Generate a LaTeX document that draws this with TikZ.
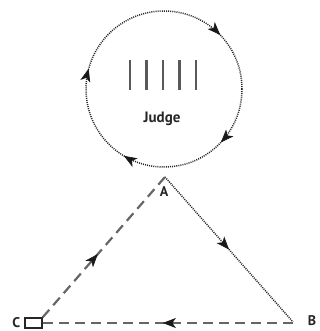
\documentclass[tikz,border=0pt]{standalone}
\usepackage{fontspec}
\setmainfont{PT Sans}
\usetikzlibrary{arrows.meta, positioning, decorations.markings}
\tikzset{
	x=1pt, y=-1pt, % one unit is one pixel of the picture
	>={Stealth[length=13pt, width=10pt, inset=3.5pt]}, % arrow heads on the lines
	lbl/.style={font=\bfseries\fontsize{14}{14}\selectfont, text=black!85, inner sep=0pt}, % letters
	dots/.style={draw=black!85, line width=1.5pt, dash pattern=on 1pt off 1.1pt}, % dotted lines
	dashes/.style={draw=black!60, line width=2.2pt, dash pattern=on 10pt off 6pt}, % dashed lines
	tip/.style={black!90, solid, line width=0.6pt}, % arrow heads along a line
	midarrow/.style={postaction={decorate}, decoration={markings, mark=at position #1 with {\arrow[tip]{>}}}},
	bar/.style={draw=black!65, line width=2.2pt},
}

\begin{document}
\begin{tikzpicture}
	\useasboundingbox (0,0) rectangle (320,331);
	% judge circle
	\draw[dots, postaction={decorate}, decoration={markings,
			mark=at position 0.12 with {\arrow[tip]{>}},
			mark=at position 0.336 with {\arrow[tip]{>}},
			mark=at position 0.542 with {\arrow[tip]{>}},
			mark=at position 0.878 with {\arrow[tip]{>}}}]
		(164,89) circle (78);
	\foreach \i in {0,...,4}
		\draw[bar] (130+16.5*\i,60) -- (130+16.5*\i,90);
	\node[lbl, font=\bfseries\fontsize{15}{15}\selectfont] (judge) at (162,119) {Judge};
	% triangle
	\coordinate (A) at (165,177);
	\coordinate (B) at (293,322);
	\node[draw=black!85, line width=1.4pt, minimum width=17pt, minimum height=10pt, inner sep=0pt] (C) at (33.5,323) {};
	\node[lbl] (la) at (164,192) {A};
	\node[lbl] (lb) at (312,321) {B};
	\node[lbl, left=4pt of C] (lc) {C};
	\draw[dots, midarrow=0.5] (A) -- (B);
	\draw[dashes, midarrow=0.52] (B |- C.east) -- (C.east);
	\draw[dashes, midarrow=0.45] (C.north east) -- (A);
\end{tikzpicture}
\end{document}
